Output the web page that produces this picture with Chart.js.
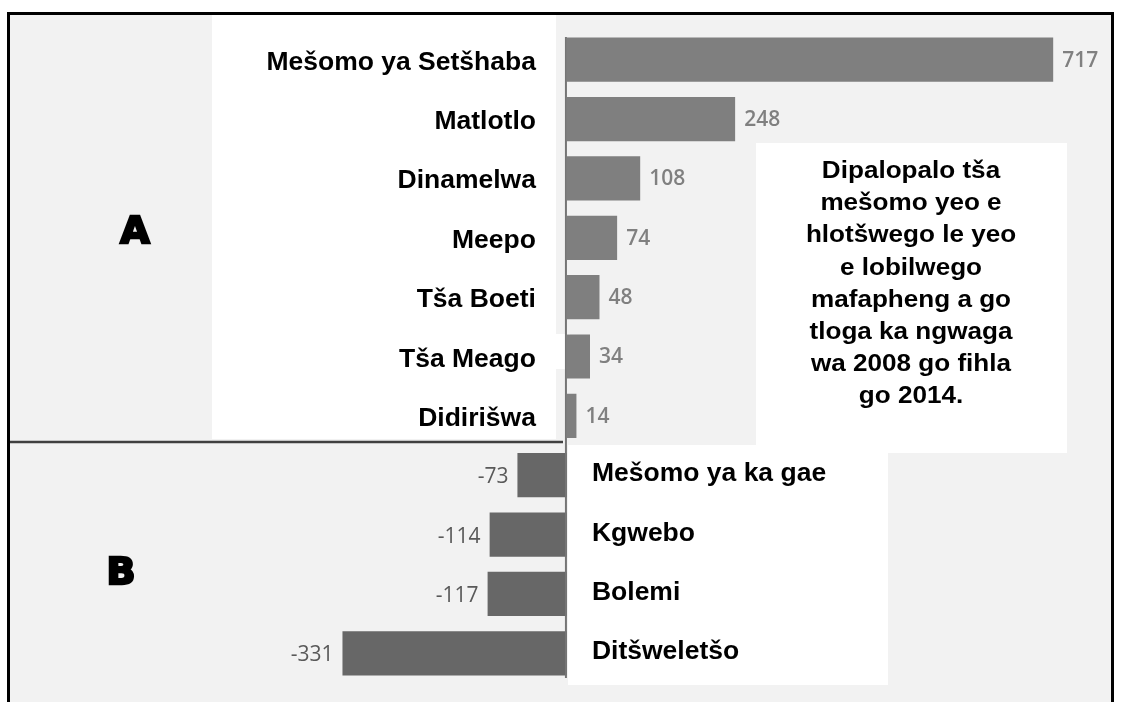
<!DOCTYPE html>
<html>
<head>
<meta charset="utf-8">
<title>Mešomo</title>
<script src="https://cdn.jsdelivr.net/npm/chart.js@4"></script>
<style>
    body { margin: 0; background: #ffffff; }
    #wrap { position: relative; width: 1121px; height: 702px; }
</style>
</head>
<body>
<div id="wrap">
    <canvas id="barChart" width="1121" height="702"></canvas>
</div>
<script>
// datos del grafico
const categories = ['Mešomo ya Setšhaba', 'Matlotlo', 'Dinamelwa', 'Meepo', 'Tša Boeti', 'Tša Meago', 'Didirišwa',
    'Mešomo ya ka gae', 'Kgwebo', 'Bolemi', 'Ditšweletšo'];
const values = [717, 248, 108, 74, 48, 34, 14, -73, -114, -117, -331];
const groupLabels = ['A', 'B'];
const noteLines = ['Dipalopalo tša', 'mešomo yeo e', 'hlotšwego le yeo', 'e lobilwego',
    'mafapheng a go', 'tloga ka ngwaga', 'wa 2008 go fihla', 'go 2014.'];

const colorPos = '#7f7f7f';
const colorNeg = '#676767';

// texto estirado horizontalmente como en la imagen
function stretchText(ctx, text, x, y, sx) {
    ctx.save();
    ctx.translate(x, y);
    ctx.scale(sx, 1);
    ctx.fillText(text, 0, 0);
    ctx.restore();
}

const decorPlugin = {
    id: 'decor',
    beforeDatasetsDraw(chart) {
        const ctx = chart.ctx;
        ctx.save();
        // fondo gris
        ctx.fillStyle = '#f2f2f2';
        ctx.fillRect(10, 15, 1101, 687);
        // paneles blancos
        ctx.fillStyle = '#ffffff';
        ctx.fillRect(212, 15, 344, 424);
        ctx.fillRect(556, 334, 14, 35);
        ctx.fillRect(756, 143, 311, 310);
        ctx.fillRect(568, 445, 320, 240);
        // linea que separa A y B
        ctx.strokeStyle = '#404040';
        ctx.lineWidth = 2.5;
        ctx.beginPath();
        ctx.moveTo(10, 442);
        ctx.lineTo(563, 442);
        ctx.stroke();
        // marco negro
        ctx.strokeStyle = '#000000';
        ctx.lineWidth = 3;
        ctx.beginPath();
        ctx.moveTo(8.5, 702);
        ctx.lineTo(8.5, 13.5);
        ctx.lineTo(1112.5, 13.5);
        ctx.lineTo(1112.5, 702);
        ctx.stroke();
        ctx.restore();
    },
    afterDatasetsDraw(chart) {
        const ctx = chart.ctx;
        const xScale = chart.scales.x;
        const meta = chart.getDatasetMeta(0);
        const zero = xScale.getPixelForValue(0);
        ctx.save();

        // eje vertical
        ctx.strokeStyle = '#757575';
        ctx.lineWidth = 2;
        ctx.beginPath();
        ctx.moveTo(zero - 1, 37);
        ctx.lineTo(zero - 1, 678);
        ctx.stroke();

        meta.data.forEach((bar, i) => {
            const v = values[i];
            const y = bar.y;
            // valores
            ctx.textBaseline = 'middle';
            if (v >= 0) {
                ctx.font = '600 21px "Open Sans"';
                ctx.fillStyle = '#808080';
                ctx.textAlign = 'left';
                ctx.fillText(String(v), bar.x + 9, y + 1);
            } else {
                ctx.font = '400 21px "Open Sans"';
                ctx.fillStyle = '#595959';
                ctx.textAlign = 'right';
                ctx.fillText(String(v), bar.x - 9, y + 2);
            }
            // categorias
            ctx.font = 'bold 25px "Liberation Sans"';
            ctx.fillStyle = '#000000';
            ctx.textBaseline = 'alphabetic';
            if (v >= 0) {
                ctx.textAlign = 'right';
                stretchText(ctx, categories[i], zero - 31, y + 10, 1.06);
            } else {
                ctx.textAlign = 'left';
                stretchText(ctx, categories[i], zero + 25, y + 6, 1.06);
            }
        });

        // letras A y B
        ctx.font = 'bold 38px "DejaVu Sans"';
        ctx.fillStyle = '#000000';
        ctx.strokeStyle = '#000000';
        ctx.lineWidth = 2.5;
        ctx.textAlign = 'center';
        ctx.textBaseline = 'alphabetic';
        ctx.fillText(groupLabels[0], 135, 243);
        ctx.strokeText(groupLabels[0], 135, 243);
        ctx.fillText(groupLabels[1], 121, 584);
        ctx.strokeText(groupLabels[1], 121, 584);

        // nota
        ctx.font = 'bold 23.5px "Liberation Sans"';
        ctx.textAlign = 'center';
        noteLines.forEach((line, k) => {
            stretchText(ctx, line, 911, 178 + k * 32.2, 1.11);
        });
        ctx.restore();
    }
};

const barCtx = document.getElementById('barChart').getContext('2d');
const barChart = new Chart(barCtx, {
    type: 'bar',
    data: {
        labels: categories,
        datasets: [{
            data: values,
            backgroundColor: values.map(v => v >= 0 ? colorPos : colorNeg),
            borderWidth: 0,
            barPercentage: 0.745,
            categoryPercentage: 1
        }]
    },
    options: {
        indexAxis: 'y',
        responsive: false,
        animation: false,
        layout: { padding: { top: 30, bottom: 19, left: 0, right: 0 } },
        plugins: {
            legend: { display: false },
            tooltip: { enabled: false }
        },
        scales: {
            x: { display: false, min: -836, max: 817 },
            y: { display: false }
        }
    },
    plugins: [decorPlugin]
});
</script>
</body>
</html>
